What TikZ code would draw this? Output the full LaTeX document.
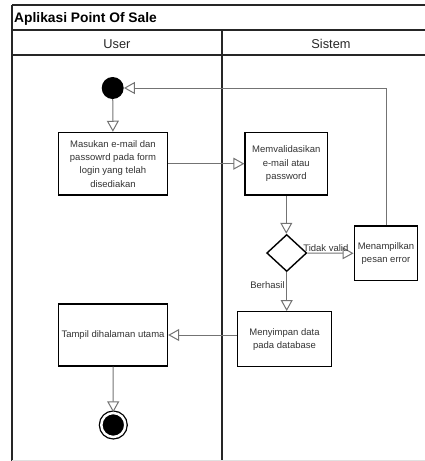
\documentclass[tikz,border=0pt]{standalone}
\usepackage{fontspec}
\setmainfont{Liberation Sans}
\usetikzlibrary{shapes.geometric, arrows.meta, positioning, calc}

\begin{document}
\begin{tikzpicture}[x=1pt, y=-1pt,
    lane/.style={line width=1.5pt, black!85},
    actbox/.style={draw, line width=1.4pt, rectangle, align=center, inner sep=0pt,
        text=black!80, font=\fontsize{9.5}{13.3}\selectfont},
    decision/.style={draw, line width=1.4pt, diamond, inner sep=0pt,
        minimum width=40pt, minimum height=37pt},
    flow/.style={draw=black!55, line width=1pt,
        -{Triangle[open, length=11pt, width=12pt]}},
    flowlabel/.style={text=black!80, font=\fontsize{9.5}{11}\selectfont, inner sep=1.5pt}]
    \useasboundingbox (0,0) rectangle (425,461);

    % Pool and lanes
    \draw[lane] (12,5) -- (425,5);
    \draw[lane] (12,30) -- (425,30);
    \draw[lane] (12,55) -- (425,55);
    \draw[lane] (12,5) -- (12,461);
    \draw[lane] (222,30) -- (222,461);
    \draw[black!12] (12,460) -- (425,460);
    \node[anchor=base west, inner sep=0, font=\fontsize{13.8}{15}\selectfont\bfseries] (pool) at (14,22) {Aplikasi Point Of Sale};
    \node[anchor=base, inner sep=0, text=black!85, font=\fontsize{12.8}{14}\selectfont] (user) at (117,48.3) {User};
    \node[anchor=base, inner sep=0, text=black!85, font=\fontsize{12.8}{14}\selectfont] (sistem) at (331,48.3) {Sistem};

    % Activities
    \node[circle, fill=black, minimum size=22pt, inner sep=0] (start) at (112.7,88) {};
    \node[actbox, minimum width=109pt, minimum height=62.5pt] (masuk) at (113,163.7)
        {Masukan e-mail dan\\passowrd pada form\\login yang telah\\disediakan};
    \node[actbox, minimum width=82.5pt, minimum height=62.5pt] (validasi) at (286.3,163.8)
        {Memvalidasikan\\e-mail atau\\password};
    \node[decision] (cek) at (286.7,253) {};
    \node[actbox, minimum width=63.5pt, minimum height=54.5pt] (error) at (386,253.3)
        {Menampilkan\\pesan error};
    \node[actbox, minimum width=94.5pt, minimum height=55pt] (simpan) at (284.5,339.2)
        {Menyimpan data\\pada database};
    \node[actbox, minimum width=109pt, minimum height=62pt] (tampil) at (113,335)
        {Tampil dihalaman utama};
    \node[circle, fill=black, draw=black, line width=1.3pt, double=white, double distance=2.5pt,
        minimum size=24pt, inner sep=0] (end) at (113.3,425) {};

    % Flows
    \draw[flow] (start) -- (masuk);
    \draw[flow] (masuk.east) -- (masuk.east -| validasi.west);
    \draw[flow] (validasi.south) -- (validasi.south |- cek.north);
    \draw[flow] (cek.east) -- node[flowlabel, above, pos=0.4] {Tidak valid} (error.west);
    \draw[flow] (error.north) |- (start.east);
    \draw[flow] (cek.south) -- node[flowlabel, left, pos=0.33] {Berhasil} (cek.south |- simpan.north);
    \draw[flow] (tampil.east -| simpan.west) -- (tampil.east);
    \draw[flow] (tampil) -- (end);
\end{tikzpicture}
\end{document}
